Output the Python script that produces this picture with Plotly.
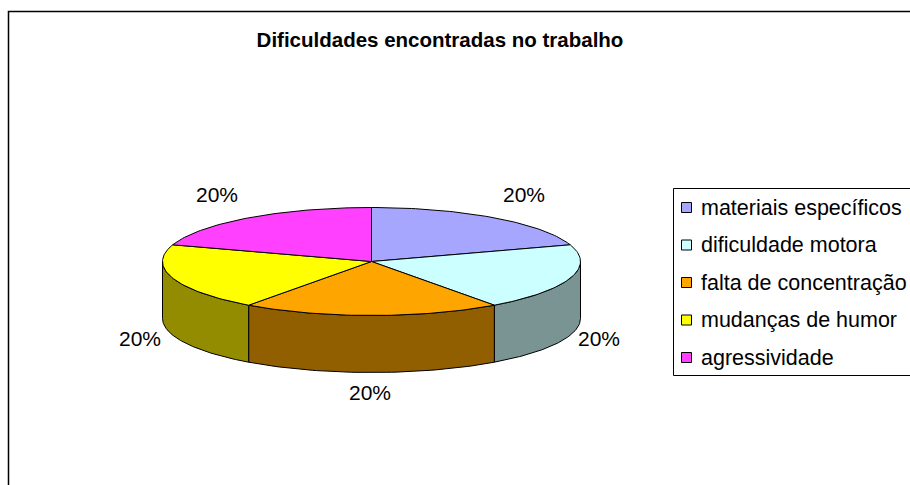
import numpy as np
import plotly.graph_objects as go

categories = ["materiais específicos", "dificuldade motora", "falta de concentração", "mudanças de humor", "agressividade"]
values = [20, 20, 20, 20, 20]
labels = ["20%", "20%", "20%", "20%", "20%"]
top_colors = ["#A6A6FF", "#CCFFFF", "#FFA500", "#FFFF00", "#FF40FF"]
side_colors = ["#5C5C8C", "#7A9494", "#915F00", "#948C00", "#8C238C"]

CX, CY, RX, RY, DEPTH = 371.5, 261.5, 209, 54, 57
label_pos = [(524, 197), (599, 341), (370, 395), (140, 341), (217, 197)]
LEG_SWATCH_X, LEG_TEXT_X, LEG_SWATCH_Y0, LEG_TEXT_Y0, LEG_DY = 686.5, 701, 207.5, 209.5, 37.5


def pt(deg, dy=0.0):
    a = np.radians(deg)
    return CX + RX * np.sin(a), CY - RY * np.cos(a) + dy


fig = go.Figure()
total = sum(values)
edges = np.concatenate([[0], np.cumsum(values)]) / total * 360

# side walls (only the front half of the cylinder is visible)
for i in range(len(values)):
    a0, a1 = max(edges[i], 90), min(edges[i + 1], 270)
    if a1 <= a0:
        continue
    t = np.linspace(a0, a1, 60)
    xt, yt = pt(t)
    xb, yb = pt(t[::-1], DEPTH)
    fig.add_trace(go.Scatter(x=np.r_[xt, xb, xt[0]], y=np.r_[yt, yb, yt[0]], mode="lines", fill="toself",
                             fillcolor=side_colors[i], line=dict(color="black", width=1),
                             showlegend=False, hoverinfo="skip"))

# top faces
for i in range(len(values)):
    t = np.linspace(edges[i], edges[i + 1], 60)
    xt, yt = pt(t)
    fig.add_trace(go.Scatter(x=np.r_[CX, xt, CX], y=np.r_[CY, yt, CY], mode="lines", fill="toself",
                             fillcolor=top_colors[i], line=dict(color="black", width=1),
                             name=categories[i], showlegend=False, hoverinfo="name"))

# legend entries (swatch + text, placed to match the reference box)
n = len(categories)
fig.add_trace(go.Scatter(x=[LEG_SWATCH_X] * n, y=[LEG_SWATCH_Y0 + i * LEG_DY for i in range(n)], mode="markers",
                         marker=dict(symbol="square", size=10, color=top_colors,
                                     line=dict(color="black", width=1)),
                         showlegend=False, hoverinfo="skip"))
fig.add_trace(go.Scatter(x=[LEG_TEXT_X] * n, y=[LEG_TEXT_Y0 + i * LEG_DY for i in range(n)], mode="text", text=categories,
                         textposition="middle right",
                         textfont=dict(family="Liberation Sans", size=21.5, color="black"),
                         showlegend=False, hoverinfo="skip"))

# percentage labels
fig.add_trace(go.Scatter(x=[p[0] for p in label_pos], y=[p[1] for p in label_pos], mode="text", text=labels,
                         textfont=dict(family="Liberation Sans", size=21, color="black"),
                         showlegend=False, hoverinfo="skip"))

fig.update_layout(
    width=910, height=485, margin=dict(l=0, r=0, t=0, b=0, autoexpand=False),
    paper_bgcolor="white", plot_bgcolor="white", showlegend=False,
    xaxis=dict(range=[0, 910], visible=False, fixedrange=True),
    yaxis=dict(range=[485, 0], visible=False, fixedrange=True),
    title=dict(text="<b>Dificuldades encontradas no trabalho</b>", x=440 / 910, xanchor="center",
               y=1 - 40 / 485, yanchor="middle",
               font=dict(family="Liberation Sans", size=20.5, color="black")),
    shapes=[
        dict(type="rect", xref="x", yref="y", x0=8.5, y0=11.5, x1=930, y1=500, line=dict(color="black", width=1.5), fillcolor="rgba(0,0,0,0)"),
        dict(type="rect", xref="x", yref="y", x0=673.5, y0=188.5, x1=930, y1=375.5, line=dict(color="black", width=1), fillcolor="rgba(0,0,0,0)"),
    ],
)
fig.write_html("out.html", config={"displayModeBar": False},
               post_script="document.body.style.margin='0';document.body.style.overflow='hidden';")
